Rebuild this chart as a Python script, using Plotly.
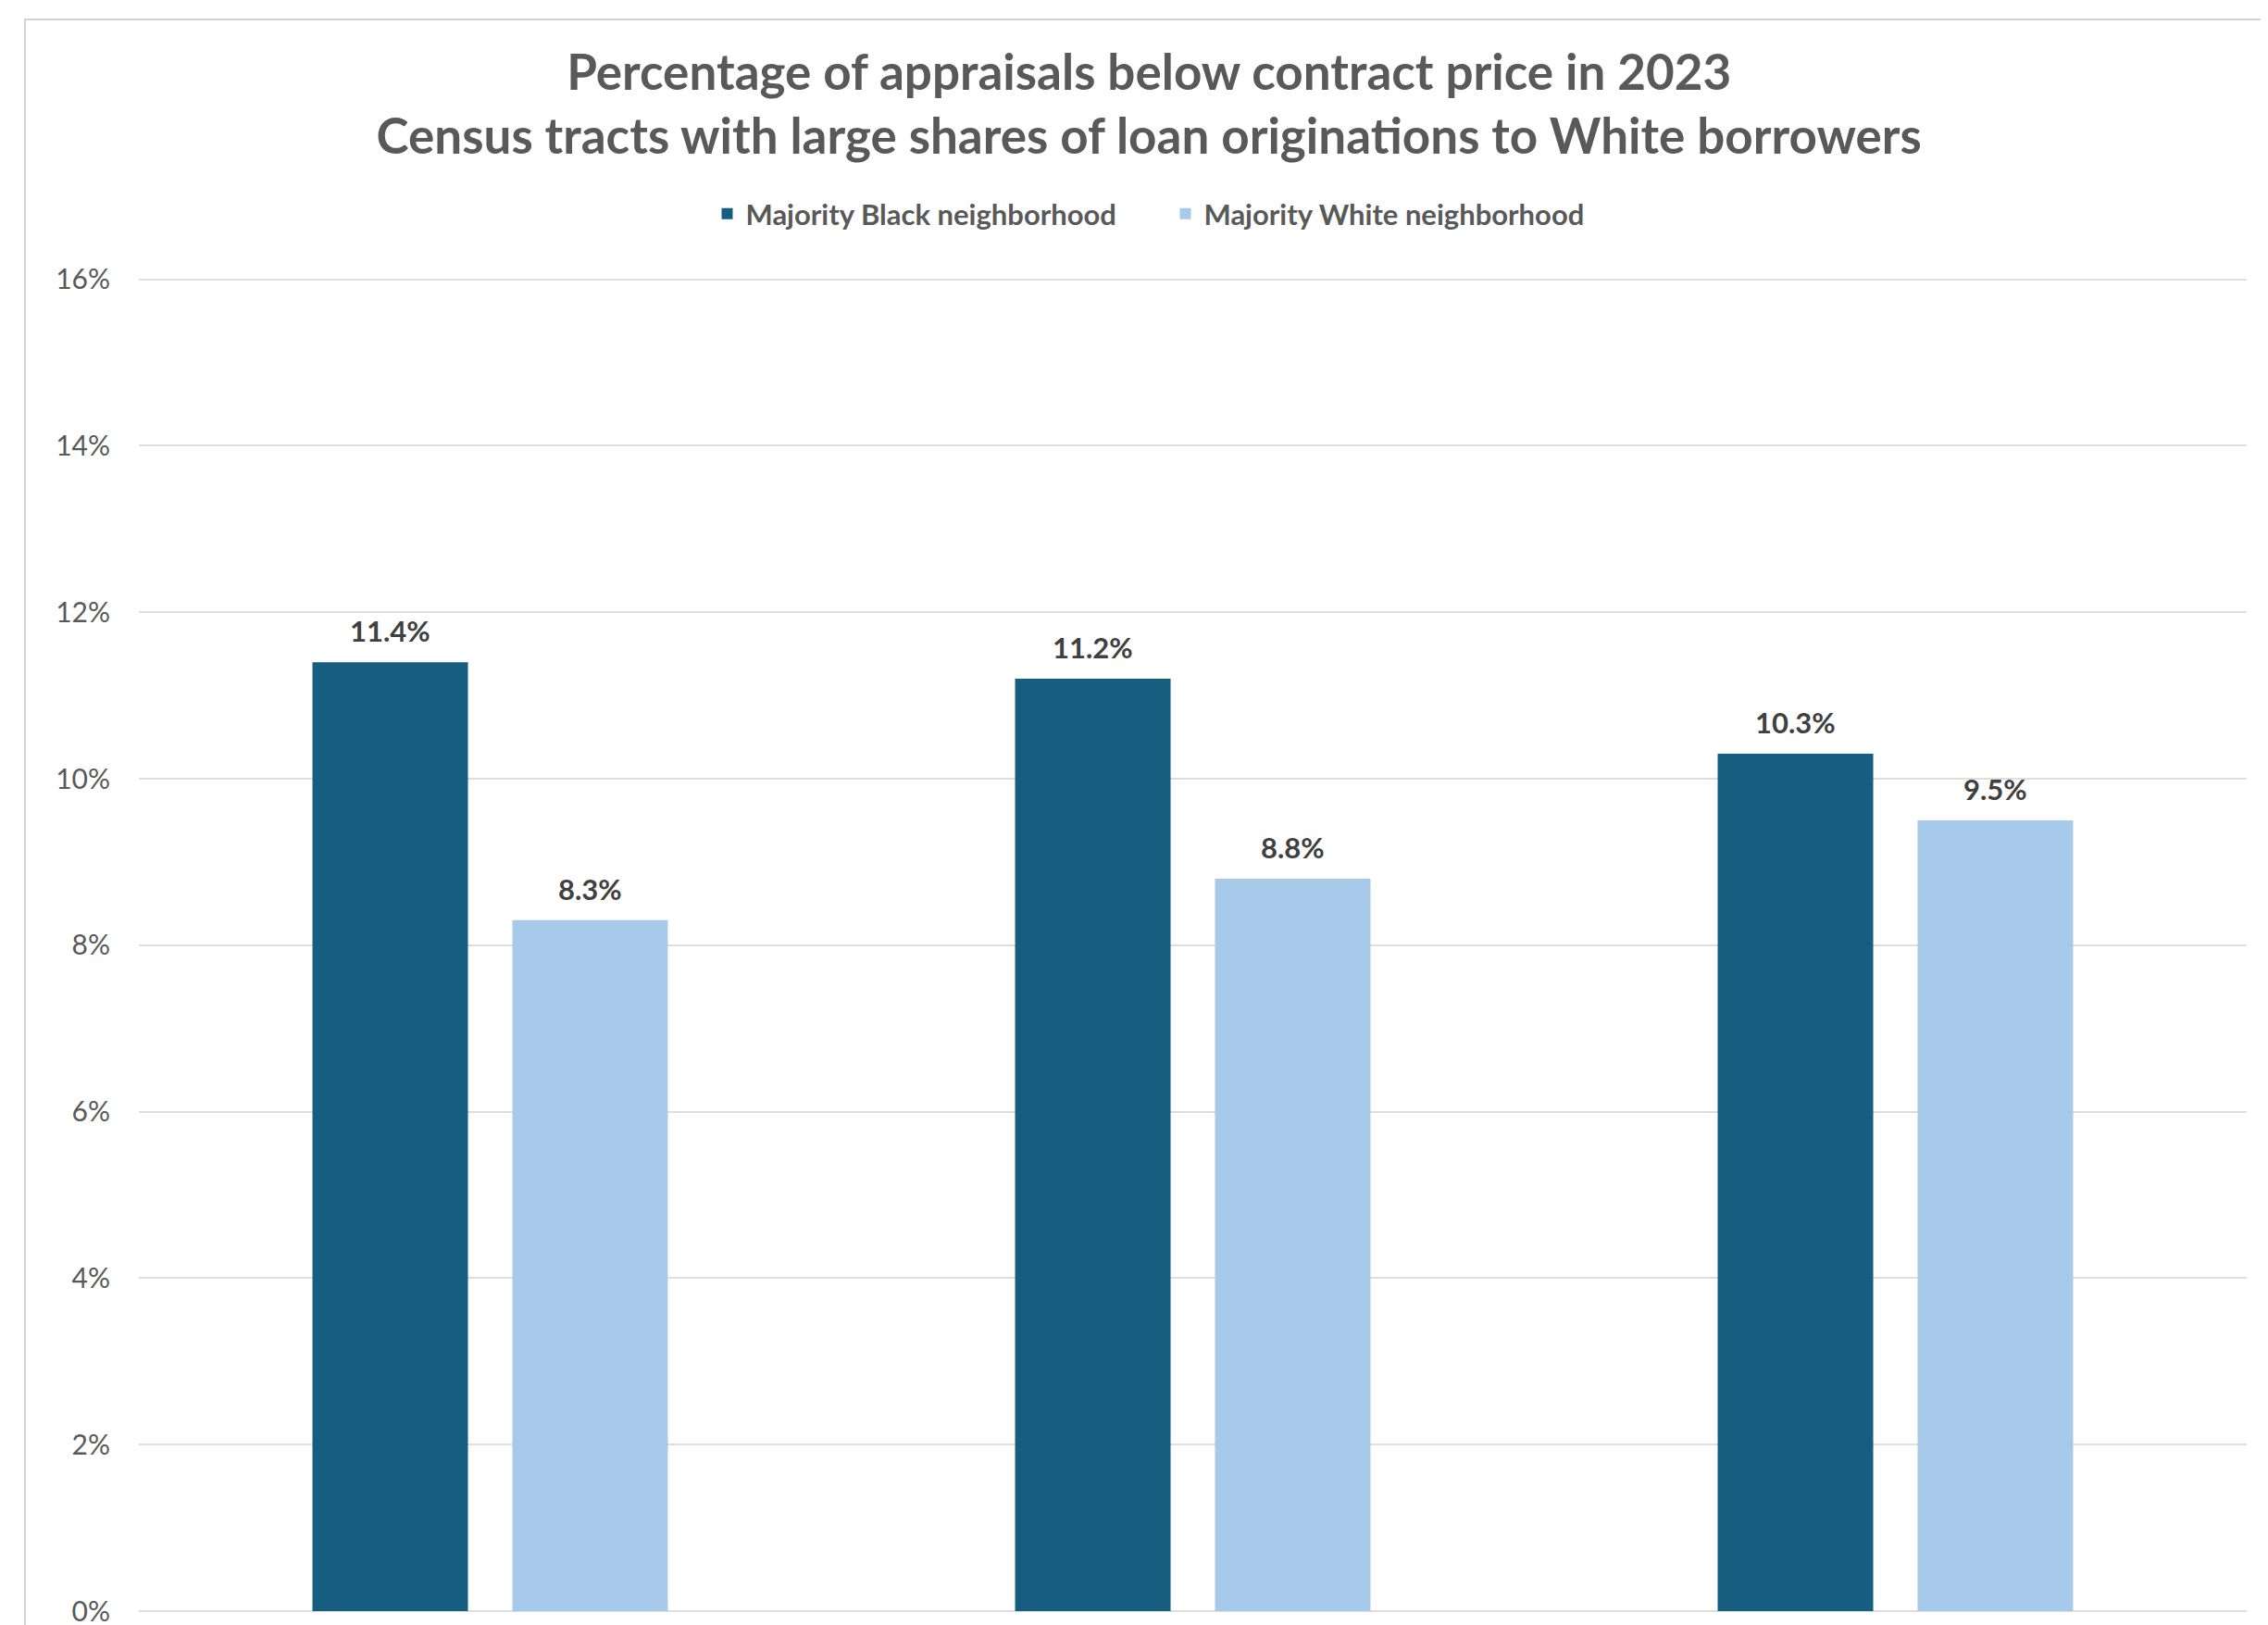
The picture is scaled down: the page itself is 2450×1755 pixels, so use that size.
import plotly.graph_objects as go

categories = ["Group A", "Group B", "Group C"]
series_names = ["Majority Black neighborhood", "Majority White neighborhood"]
black_values = [11.4, 11.2, 10.3]
white_values = [8.3, 8.8, 9.5]
colors = ["#165E80", "#A7C9EA"]
y_ticks = [0, 2, 4, 6, 8, 10, 12, 14, 16]
y_tick_labels = [f"{t}%" for t in y_ticks]

OFF = 8  # default page body margin
W, H = 2450 - OFF, 1755 - OFF
ML, MR, MT, MB = 150 - OFF, 23, 298 - OFF, 15
BARGAP, GROUPGAP = 0.431, 0.222

fig = go.Figure()
for name, vals, col in zip(series_names, [black_values, white_values], colors):
    fig.add_trace(go.Bar(x=categories, y=vals, name=name, marker=dict(color=col, line=dict(width=0))))

# data labels
plot_w = W - ML - MR
plot_h = H - MT - MB
slot = plot_w / len(categories) * (1 - BARGAP) / 2
for i, vals in enumerate([black_values, white_values]):
    shift = (i - 0.5) * slot
    for c, v in zip(categories, vals):
        fig.add_annotation(x=c, y=v, text=f"{v:.1f}%", showarrow=False, xshift=shift,
                           yanchor="bottom", yshift=13,
                           font=dict(family="Lato", size=31, color="#404040", weight="bold"))

# outer chart border
fig.add_shape(type="rect", xref="paper", yref="paper",
              x0=(27 - OFF - ML) / plot_w, x1=(2445 - OFF - ML) / plot_w,
              y0=-0.05, y1=(H - MB - (21 - OFF)) / plot_h,
              line=dict(color="#d4d4d4", width=2), layer="below")

fig.update_layout(
    width=W, height=H,
    margin=dict(l=ML, r=MR, t=MT, b=MB, autoexpand=False),
    paper_bgcolor="white", plot_bgcolor="white",
    barmode="group", bargap=BARGAP, bargroupgap=GROUPGAP,
    title=dict(text="Percentage of appraisals below contract price in 2023<br>Census tracts with large shares of loan originations to White borrowers",
               x=0.505, xanchor="center", y=1 - 89 / H, yanchor="top", yref="container",
               font=dict(family="Lato", size=53, color="#595959", weight="bold")),
    legend=dict(orientation="h", x=0.5 - 28 / plot_w, xanchor="center", y=1 - 223 / H, yanchor="middle", yref="container",
                font=dict(family="Lato", size=31, color="#595959", weight="bold"),
                entrywidth=450, itemwidth=30, traceorder="normal"),
    showlegend=True,
)
fig.update_xaxes(showticklabels=False, showgrid=False, showline=False, ticks="", automargin=False)
fig.update_yaxes(range=[0, 16.04], tickvals=y_ticks, ticktext=y_tick_labels,
                 showgrid=True, gridcolor="#dedede", gridwidth=2,
                 zeroline=True, zerolinecolor="#dedede", zerolinewidth=2,
                 tickfont=dict(family="Lato", size=30, color="#595959"),
                 ticklabeloverflow="allow", automargin=False,
                 ticklabelstandoff=30, showline=False, ticks="")

fig.write_html("out.html")
